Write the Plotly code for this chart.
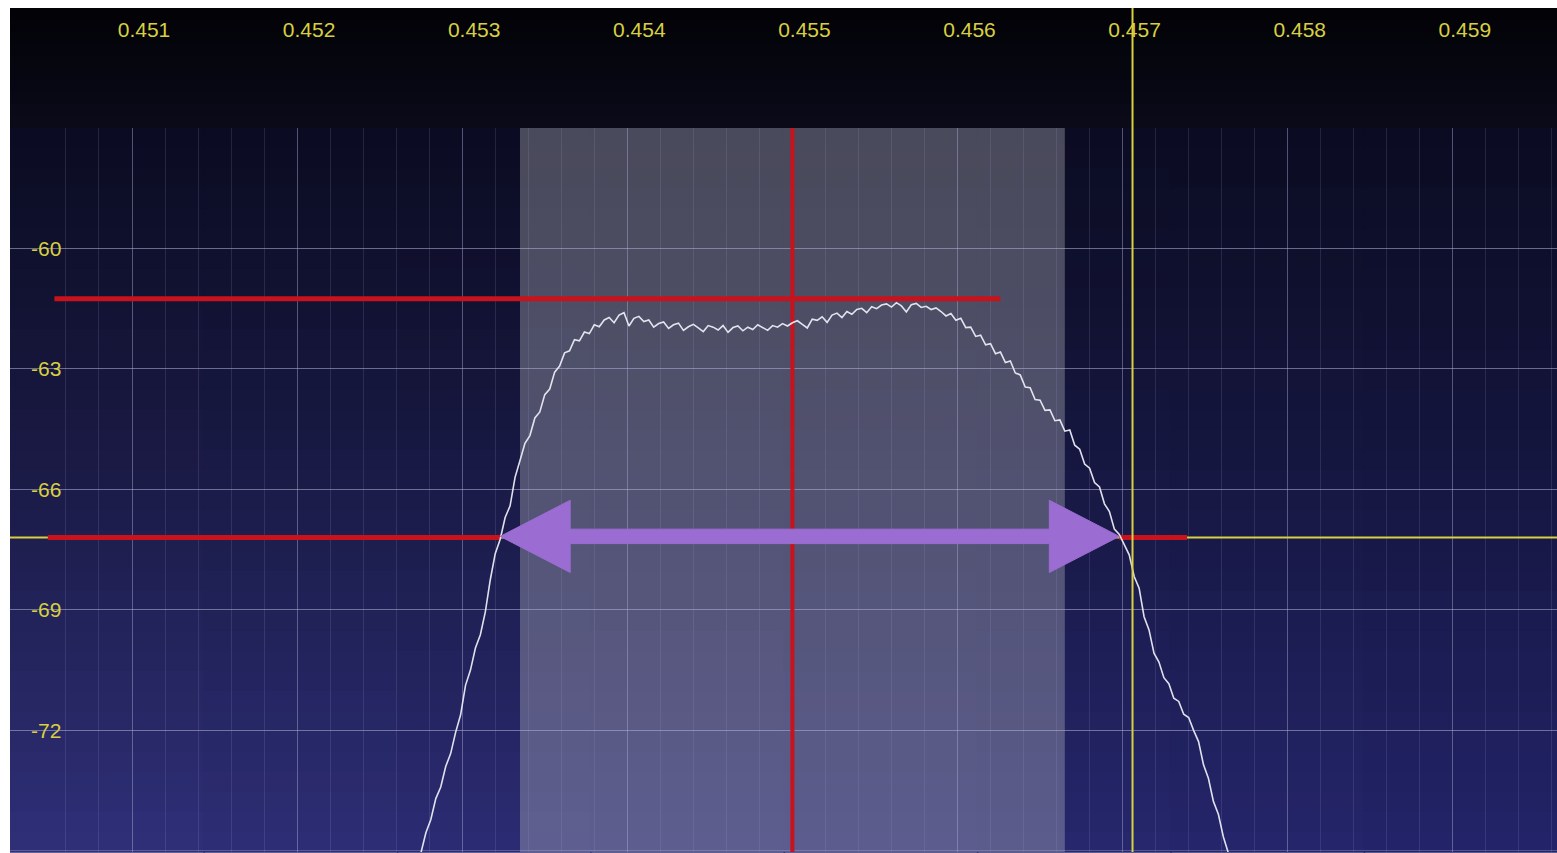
import plotly.graph_objects as go

# ---------------- data ----------------
freq_start = 0.45275
freq_step = 0.00003
level_db = [
    -75.05, -74.55, -74.22, -73.70, -73.41, -72.90, -72.58, -72.05, -71.62, -70.88,
    -70.50, -69.95, -69.62, -69.05, -68.25, -67.60, -67.24, -66.70, -66.41, -65.70,
    -65.28, -64.85, -64.66, -64.22, -64.07, -63.64, -63.50, -63.08, -62.93, -62.60,
    -62.55, -62.27, -62.30, -62.08, -62.12, -61.90, -61.95, -61.78, -61.72, -61.85,
    -61.66, -61.60, -61.93, -61.74, -61.69, -61.82, -61.78, -61.96, -61.87, -61.83,
    -61.99, -61.90, -61.86, -62.04, -61.95, -61.89, -61.98, -62.07, -61.92, -61.96,
    -62.03, -61.92, -62.09, -61.97, -61.93, -62.05, -61.96, -62.02, -61.90, -61.97,
    -62.04, -61.92, -61.96, -61.87, -61.93, -61.85, -61.80, -61.89, -61.98, -61.76,
    -61.79, -61.70, -61.84, -61.66, -61.61, -61.72, -61.57, -61.64, -61.52, -61.49,
    -61.60, -61.45, -61.50, -61.41, -61.38, -61.46, -61.35, -61.43, -61.58, -61.40,
    -61.37, -61.47, -61.44, -61.52, -61.48, -61.57, -61.68, -61.62, -61.79, -61.74,
    -61.97, -61.96, -62.19, -62.16, -62.40, -62.37, -62.62, -62.58, -62.84, -62.80,
    -63.10, -63.15, -63.45, -63.47, -63.76, -63.78, -64.03, -64.02, -64.29, -64.27,
    -64.55, -64.52, -64.90, -65.00, -65.37, -65.47, -65.83, -65.94, -66.36, -66.55,
    -66.99, -67.12, -67.38, -67.63, -68.17, -68.46, -69.17, -69.50, -70.08, -70.30,
    -70.69, -70.84, -71.20, -71.28, -71.60, -71.68, -72.00, -72.28, -72.86, -73.20,
    -73.77, -74.09, -74.65, -75.05,
]
freqs = [round(freq_start + freq_step * i, 6) for i in range(len(level_db))]

x_ticks = [0.451, 0.452, 0.453, 0.454, 0.455, 0.456, 0.457, 0.458, 0.459]
y_ticks = [-60, -63, -66, -69, -72]
x_range = [0.450261, 0.459631]
y_range = [-75.03, -57.0]

band_span = [0.45335, 0.45665]
center_freq = 0.455
marker_freq = 0.45706
ref_level = -61.25
bw_level = -67.2
ref_line_span = [0.45053, 0.45626]
bw_line_left = [0.45049, 0.45323]
bw_line_right = [0.45698, 0.45739]
arrow_span = [0.45323, 0.45698]

# ---------------- figure ----------------
W, H = 1557, 853
M_L, M_R, M_T, M_B = 10, 0, 128, 1
HEADER_PX = 120
plot_h = H - M_T - M_B
header_top = 1 + HEADER_PX / plot_h

YEL = "#d8d040"
RED = "#c8121c"
PURPLE = "#9b6cd2"

fig = go.Figure()

shapes = []
# background gradient (plot area)
rows, cols = 36, 8
top_c = (11, 12, 34)
bl_c = (48, 48, 122)
br_c = (34, 35, 104)
for r in range(rows):
    t = (r + 0.5) / rows
    for c in range(cols):
        s = (c + 0.5) / cols
        bot = [bl_c[k] * (1 - s) + br_c[k] * s for k in range(3)]
        tt = t ** 1.15
        col = [int(round(top_c[k] * (1 - tt) + bot[k] * tt)) for k in range(3)]
        shapes.append(dict(type="rect", xref="paper", yref="paper",
                           x0=c / cols, x1=min(1.0, (c + 1) / cols + 0.001),
                           y0=1 - (r + 1) / rows - 0.001, y1=1 - r / rows,
                           fillcolor=f"rgb({col[0]},{col[1]},{col[2]})",
                           line=dict(width=0), layer="below"))
# header gradient
hrows = 10
for r in range(hrows):
    t = (r + 0.5) / hrows
    col = [int(round(a * (1 - t) + b * t)) for a, b in zip((2, 2, 6), (10, 10, 26))]
    y1 = header_top - (header_top - 1) * r / hrows
    y0 = header_top - (header_top - 1) * (r + 1) / hrows - 0.0005
    shapes.append(dict(type="rect", xref="paper", yref="paper", x0=0, x1=1,
                       y0=y0, y1=y1, fillcolor=f"rgb({col[0]},{col[1]},{col[2]})",
                       line=dict(width=0), layer="below"))
# highlighted channel band
shapes.append(dict(type="rect", xref="x", yref="paper", x0=band_span[0], x1=band_span[1],
                   y0=0, y1=1, fillcolor="rgba(200,200,205,0.33)", line=dict(width=0),
                   layer="between"))
# yellow marker line through header
shapes.append(dict(type="line", xref="x", yref="paper", x0=marker_freq, x1=marker_freq,
                   y0=0, y1=header_top, line=dict(color=YEL, width=2), layer="above"))

fig.update_layout(shapes=shapes)

# yellow horizontal marker line
fig.add_trace(go.Scatter(x=x_range, y=[bw_level, bw_level], mode="lines",
                         line=dict(color=YEL, width=2), hoverinfo="skip"))
# red center line
fig.add_trace(go.Scatter(x=[center_freq, center_freq], y=y_range, mode="lines",
                         line=dict(color=RED, width=4), hoverinfo="skip"))
# red reference lines
fig.add_trace(go.Scatter(x=ref_line_span, y=[ref_level, ref_level], mode="lines",
                         line=dict(color=RED, width=5), hoverinfo="skip"))
fig.add_trace(go.Scatter(x=bw_line_left, y=[bw_level, bw_level], mode="lines",
                         line=dict(color=RED, width=5), hoverinfo="skip"))
fig.add_trace(go.Scatter(x=bw_line_right, y=[bw_level, bw_level], mode="lines",
                         line=dict(color=RED, width=5), hoverinfo="skip"))
# spectrum trace
fig.add_trace(go.Scatter(x=freqs, y=level_db, mode="lines",
                         line=dict(color="rgba(235,235,245,0.95)", width=1.6),
                         hoverinfo="skip"))
# double arrow
L, R = arrow_span
hl, hh, sh = 0.000424, 0.9, 0.18
lv = bw_level + 0.03
ax = [L, L + hl, L + hl, R - hl, R - hl, R, R - hl, R - hl, L + hl, L + hl, L]
ay = [lv, lv + hh, lv + sh, lv + sh, lv + hh, lv, lv - hh, lv - sh, lv - sh, lv - hh, lv]
fig.add_trace(go.Scatter(x=ax, y=ay, mode="lines", fill="toself", fillcolor=PURPLE,
                         line=dict(color=PURPLE, width=1), hoverinfo="skip"))

fig.update_layout(
    width=W, height=H,
    margin=dict(l=M_L, r=M_R, t=M_T, b=M_B, pad=0),
    paper_bgcolor="white",
    plot_bgcolor="rgba(0,0,0,0)",
    showlegend=False,
    xaxis=dict(range=x_range, side="top", tickvals=x_ticks,
               ticktext=[f"{v:.3f}" for v in x_ticks],
               tickfont=dict(family="Liberation Sans, Arial", size=21, color=YEL),
               ticks="", ticklabelstandoff=86, ticklabelshift=12,
               showgrid=True, gridcolor="rgba(175,175,215,0.34)", gridwidth=1,
               minor=dict(dtick=0.0002, tick0=0.451, showgrid=True,
                          gridcolor="rgba(160,160,205,0.17)", gridwidth=1),
               zeroline=False, showline=False, fixedrange=True),
    yaxis=dict(range=y_range, tickvals=y_ticks, ticktext=[str(v) for v in y_ticks],
               tickfont=dict(family="Liberation Sans, Arial", size=21, color=YEL),
               ticks="", ticklabelposition="inside", ticklabelstandoff=18,
               showgrid=True, gridcolor="rgba(175,175,215,0.34)", gridwidth=1,
               minor=dict(dtick=3, tick0=-57, showgrid=True,
                          gridcolor="rgba(175,175,215,0.34)", gridwidth=1),
               zeroline=False, showline=False, fixedrange=True),
)

fig.write_html(
    "out.html",
    config={"displayModeBar": False, "staticPlot": True},
    post_script="document.body.style.margin='0';"
                "document.documentElement.style.overflow='hidden';"
                "document.body.style.overflow='hidden';",
)
